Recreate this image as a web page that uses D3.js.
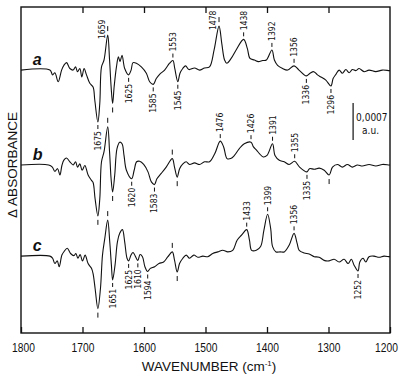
<!DOCTYPE html>
<html>
<head>
<meta charset="utf-8">
<script src="https://cdn.jsdelivr.net/npm/d3@7"></script>
<style>
  body { margin: 0; background: #fff; }
  svg { display: block; }
  text { font-family: "Liberation Sans Narrow", "DejaVu Sans Condensed", "Liberation Sans", Arial, sans-serif; fill: #111; }
</style>
</head>
<body>
<div id="chart"></div>
<script>
// IR difference spectra a, b, c
// x: wavenumber (cm-1), y: delta absorbance in units of 1e-4 a.u.
const xTicks = [1800, 1700, 1600, 1500, 1400, 1300, 1200];

const specA = [[1800,0],[1753,0],[1748.6,-0.9],[1744.9,-0.5],[1739.5,-2.2],[1734,0],[1730.3,0.9],[1725.9,1.4],[1720.5,0.3],[1715.2,0],[1711.3,0.6],[1708.1,-0.3],[1704.3,0.3],[1701.1,-1.3],[1697.4,0.3],[1693.5,-0.9],[1688.1,-2.5],[1682.8,-3.2],[1680,-5.7],[1675,-9.8],[1671.9,-6.3],[1669.1,0.6],[1665,1.9],[1659,6.6],[1656,1.9],[1653.5,-3.1],[1651,-6.3],[1648.5,-3.1],[1644.8,0.6],[1641.6,2.5],[1639,1.6],[1635.7,2.8],[1631.4,0.3],[1625,-0.9],[1621,0],[1617.9,1.4],[1612.4,1.3],[1604.3,0.6],[1596.2,-0.6],[1590.8,-2.2],[1585,-2.7],[1580,-1.6],[1574.6,-0.8],[1566.5,0],[1558.4,1.3],[1553,1.8],[1550,0.3],[1545,-2.2],[1541.5,-0.6],[1537,0.3],[1532.4,0.8],[1527.1,0.1],[1517.8,0.4],[1509.7,0],[1501.6,0.4],[1493.5,0.6],[1486,3.8],[1478,8.3],[1473.5,5.0],[1469,1.9],[1465.4,1.3],[1458.3,2.2],[1450.2,3.8],[1438,5.8],[1432,4.1],[1427.7,2.2],[1420.5,1.9],[1414,1.6],[1407.1,1.8],[1401,1.9],[1392,3.8],[1388,1.9],[1382.8,0.9],[1374.6,0.3],[1366.5,0],[1356,0.8],[1348,0],[1336,-1.1],[1330,-0.6],[1324,-0.3],[1318,-0.9],[1312.4,-1.3],[1304.3,-1.9],[1296,-3.0],[1292.5,-1.6],[1288,-0.8],[1282.7,0],[1277.4,-0.6],[1271.8,0.1],[1266.5,-0.5],[1261.2,0.1],[1255.6,-0.1],[1250.3,0.3],[1242.2,-0.3],[1234.1,0],[1223.2,-0.3],[1212.5,0],[1201.6,-0.1],[1200,-0.1]];

const specB = [[1800,0],[1755,0],[1749,-0.4],[1745,-1.2],[1740.5,-0.7],[1736.7,-1.9],[1733.5,-0.1],[1730.3,0.9],[1726,1.3],[1720.5,0.6],[1715.2,0],[1711.3,0.6],[1708.1,-0.4],[1704.3,0.2],[1700.6,-1.0],[1696.2,-0.1],[1690.9,-1.9],[1685.4,-2.9],[1682.8,-3.3],[1679.5,-6.4],[1675,-9.6],[1671.9,-6.4],[1669.1,0.6],[1665,2.5],[1659,7.2],[1656,2.5],[1653.5,-2.6],[1651,-5.1],[1647.6,-1.9],[1643.9,3.1],[1639.5,4.3],[1635.7,4.0],[1632.5,1.8],[1628.6,-1.0],[1620,-2.6],[1616,-1.0],[1612,0.6],[1607,0.7],[1600.5,0.1],[1593.5,-1.3],[1588,-3.2],[1583,-3.7],[1579,-2.6],[1572,-1.6],[1563.9,-0.4],[1554,1.2],[1550.4,-0.4],[1546,-2.3],[1542.1,-0.7],[1536.8,0.2],[1531.4,0.6],[1525.9,0.1],[1517.8,0.4],[1509.7,0.1],[1501.6,0.6],[1493.5,0.6],[1485,2.1],[1476,4.5],[1470.5,3.4],[1465,1.2],[1459,1.2],[1453,1.8],[1445,3.1],[1437,4.0],[1426,4.3],[1422,3.4],[1417,2.8],[1412,2.1],[1406,1.5],[1400,1.8],[1391,4.0],[1387,1.8],[1380,0.9],[1372,0.6],[1364,0.1],[1355,0.7],[1347,-0.4],[1335,-1.3],[1331,-0.7],[1323,-0.8],[1315,-0.6],[1307,-1.0],[1299,-1.9],[1293.5,-0.4],[1285.5,0.1],[1277.4,-0.4],[1269.3,0.1],[1261.2,-0.4],[1253,0],[1245,-0.2],[1234,0.1],[1223,-0.2],[1212.5,0.1],[1201.6,0],[1200,0]];

const specC = [[1800,0],[1753,0],[1748.6,-0.4],[1744.9,-1.4],[1741.1,-0.9],[1737.9,-2.0],[1733.5,0.2],[1729.8,0.9],[1724.9,1.5],[1719.4,0.5],[1714,0.1],[1710.8,0.5],[1707.5,-0.4],[1703.8,0.3],[1700,-0.9],[1695.7,0.2],[1690.9,-1.4],[1685.4,-2.3],[1682.8,-3.3],[1679.5,-6.1],[1675,-9.9],[1670.8,-6.1],[1667.5,0.2],[1663.8,3.3],[1659,6.8],[1655.7,2.7],[1653,-1.7],[1651,-4.5],[1647.1,-1.7],[1643.2,2.7],[1639.5,4.3],[1635.1,5.0],[1631.4,2.7],[1627.6,-0.4],[1625,-0.9],[1621.1,0.2],[1617.9,0.7],[1610,-0.8],[1606.5,0.3],[1602.5,-0.1],[1598.5,-2.0],[1594,-2.9],[1589.7,-2.3],[1582.7,-2.0],[1575.7,-1.4],[1568.1,-1.1],[1561.1,-0.1],[1554,0.8],[1550.3,-0.8],[1546,-3.0],[1542.2,-1.4],[1536.8,-0.4],[1531.4,0.2],[1525.9,-0.4],[1519,0.2],[1512.5,-0.2],[1504.4,0],[1496.3,-0.1],[1488.2,0.5],[1480,0.8],[1471.9,1.1],[1463.8,0.8],[1455.7,1.1],[1448.6,3.0],[1441.1,4.0],[1433,5.0],[1428.5,3.0],[1425,1.1],[1417.4,1.1],[1410.4,1.8],[1405,4.9],[1399,7.9],[1394,5.2],[1390.9,1.8],[1385.4,0.8],[1378.4,0.8],[1371.9,0.8],[1363.8,2.1],[1356,4.3],[1351,2.4],[1347.6,1.1],[1339.5,0.6],[1331.4,0.4],[1323.3,-0.1],[1315.2,-0.2],[1307.1,-0.8],[1299,-0.9],[1290.8,-0.6],[1282.7,-1.1],[1274.6,-0.6],[1268.1,-1.4],[1262.8,-0.6],[1258.4,-1.7],[1252,-2.8],[1249.1,-1.1],[1243.8,-0.4],[1239.4,-1.1],[1234.1,-0.1],[1226,0],[1217.8,-0.2],[1209.7,0],[1201.6,-0.1],[1200,-0.1]];

const traceNames = ["a", "b", "c"];
const traceOffsets = [49.6, 31.7, 14.5];   // vertical stacking, 1e-4 a.u.

// band marks: [wavenumber, label text, kind]
const labelsA = [[1675,"1675","down"],[1659,"1659","left"],[1651,"","tickDown"],[1625,"1625","down"],[1585,"1585","down"],[1553,"1553","up"],[1545,"1545","down"],[1478,"1478","left"],[1438,"1438","up"],[1392,"1392","up"],[1356,"1356","up"],[1336,"1336","down"],[1296,"1296","down"]];
const labelsB = [[1675,"","tickDown"],[1659,"","tickUp"],[1651,"","tickDown"],[1620,"1620","down"],[1583,"1583","down"],[1554,"","tickUp"],[1546,"","tickDown"],[1476,"1476","up"],[1426,"1426","up"],[1391,"1391","up"],[1355,"1355","up"],[1335,"1335","down"],[1299,"","tickDown"]];
const labelsC = [[1675,"","tickDown"],[1659,"","tickUp"],[1651,"1651","down"],[1625,"1625","down"],[1610,"1610","down"],[1594,"1594","down"],[1554,"","tickUp"],[1546,"","tickDown"],[1433,"1433","up"],[1399,"1399","up"],[1356,"1356","up"],[1252,"1252","down"]];

const scaleBarValue = 7;     // 0,0007 a.u.
const scaleBarWn = 1260;
const scaleBarTop = 43.4;

const W = 400, H = 375;
const plot = { left: 21, right: 390, top: 7, bottom: 333 };

const svg = d3.select("#chart").append("svg").attr("width", W).attr("height", H);
const x = d3.scaleLinear().domain([1800, 1200]).range([plot.left, plot.right]);
const y = d3.scaleLinear().domain([0, 61.5]).range([plot.bottom, plot.top]);

// frame
svg.append("rect")
  .attr("x", plot.left).attr("y", plot.top)
  .attr("width", plot.right - plot.left).attr("height", plot.bottom - plot.top)
  .attr("fill", "none").attr("stroke", "#111").attr("stroke-width", 1.4);

// inward ticks, bottom with labels, top bare
const gx = svg.append("g").attr("transform", `translate(0,${plot.bottom})`)
  .call(d3.axisBottom(x).tickValues(xTicks).tickFormat(d3.format("d")).tickSizeInner(-6).tickSizeOuter(0).tickPadding(10));
const gt = svg.append("g").attr("transform", `translate(0,${plot.top})`)
  .call(d3.axisTop(x).tickValues(xTicks.slice(1, -1)).tickFormat("").tickSizeInner(-6).tickSizeOuter(0));
[gx, gt].forEach(g => {
  g.select(".domain").remove();
  g.selectAll(".tick line").attr("stroke", "#111").attr("stroke-width", 1.3);
});
gx.selectAll(".tick text")
  .attr("font-size", 12.5).attr("fill", "#111")
  .attr("transform", d => `translate(${d === 1200 ? -4 : d === 1800 ? 2 : 0},0) scale(0.82,1)`)
  .style("font-family", '"Liberation Sans", Arial, sans-serif');

// axis titles
const xt = svg.append("text").attr("x", 209).attr("y", 371).attr("text-anchor", "middle")
  .attr("font-size", 13.5).style("font-family", '"Liberation Sans", Arial, sans-serif');
xt.append("tspan").text("WAVENUMBER  (cm");
xt.append("tspan").attr("font-size", 8).attr("dy", -5).text("-1");
xt.append("tspan").attr("dy", 5).text(")");

svg.append("text")
  .attr("transform", `translate(12,165) rotate(-90)`)
  .attr("text-anchor", "middle").attr("dy", "0.35em")
  .attr("font-size", 13.5)
  .style("font-family", '"Liberation Sans", Arial, sans-serif')
  .text("\u0394 ABSORBANCE");

// spectra
const specs = [specA, specB, specC];
const labelSets = [labelsA, labelsB, labelsC];
const line = d3.line().curve(d3.curveCatmullRom.alpha(0.5));

function valueAt(spec, wn) {
  for (let i = 0; i < spec.length - 1; i++) {
    const [w0, v0] = spec[i], [w1, v1] = spec[i + 1];
    if (wn <= w0 && wn >= w1) return w0 === w1 ? v0 : v0 + (v1 - v0) * (w0 - wn) / (w0 - w1);
  }
  return 0;
}

specs.forEach((spec, k) => {
  const off = traceOffsets[k];
  svg.append("path")
    .attr("d", line(spec.map(([w, v]) => [x(w), y(v + off)])))
    .attr("fill", "none").attr("stroke", "#111").attr("stroke-width", 1.1)
    .attr("stroke-linejoin", "round");

  svg.append("text")
    .attr("x", x(1781)).attr("y", y(off) - 5)
    .attr("font-size", 16).attr("font-weight", "bold").attr("font-style", "italic")
    .style("font-family", '"Liberation Sans", Arial, sans-serif')
    .text(traceNames[k]);

  const g = svg.append("g");
  labelSets[k].forEach(([wn, txt, kind]) => {
    const px = x(wn), py = y(valueAt(spec, wn) + off);
    const tick = (y0, y1, xx) => g.append("line").attr("x1", xx).attr("x2", xx).attr("y1", y0).attr("y2", y1)
      .attr("stroke", "#111").attr("stroke-width", 1);
    const vtext = (xx, yy, anchor, s) => g.append("text")
      .attr("transform", `translate(${xx},${yy}) rotate(-90)`)
      .attr("text-anchor", anchor).attr("dy", "0.35em").attr("font-size", 8.5).text(s);
    if (kind === "up") {
      tick(py - 3, py - 7, px);
      vtext(px, py - 9, "start", txt);
    } else if (kind === "down") {
      tick(py + 3, py + 7, px);
      vtext(px, py + 9, "end", txt);
    } else if (kind === "left") {
      tick(py - 9, py - 4, px);
      vtext(px - 6, py + 4, "start", txt);
    } else if (kind === "tickUp") {
      tick(py - 9, py - 4, px);
    } else if (kind === "tickDown") {
      tick(py + 4, py + 9, px);
    }
  });
});

// scale bar
const sbx = x(scaleBarWn);
svg.append("line")
  .attr("x1", sbx).attr("x2", sbx)
  .attr("y1", y(scaleBarTop)).attr("y2", y(scaleBarTop - scaleBarValue))
  .attr("stroke", "#111").attr("stroke-width", 1.2);
svg.append("text").attr("x", sbx + 3).attr("y", y(scaleBarTop) + 18).attr("font-size", 10).text("0,0007");
svg.append("text").attr("x", sbx + 9).attr("y", y(scaleBarTop) + 31).attr("font-size", 10).text("a.u.");
</script>
</body>
</html>
